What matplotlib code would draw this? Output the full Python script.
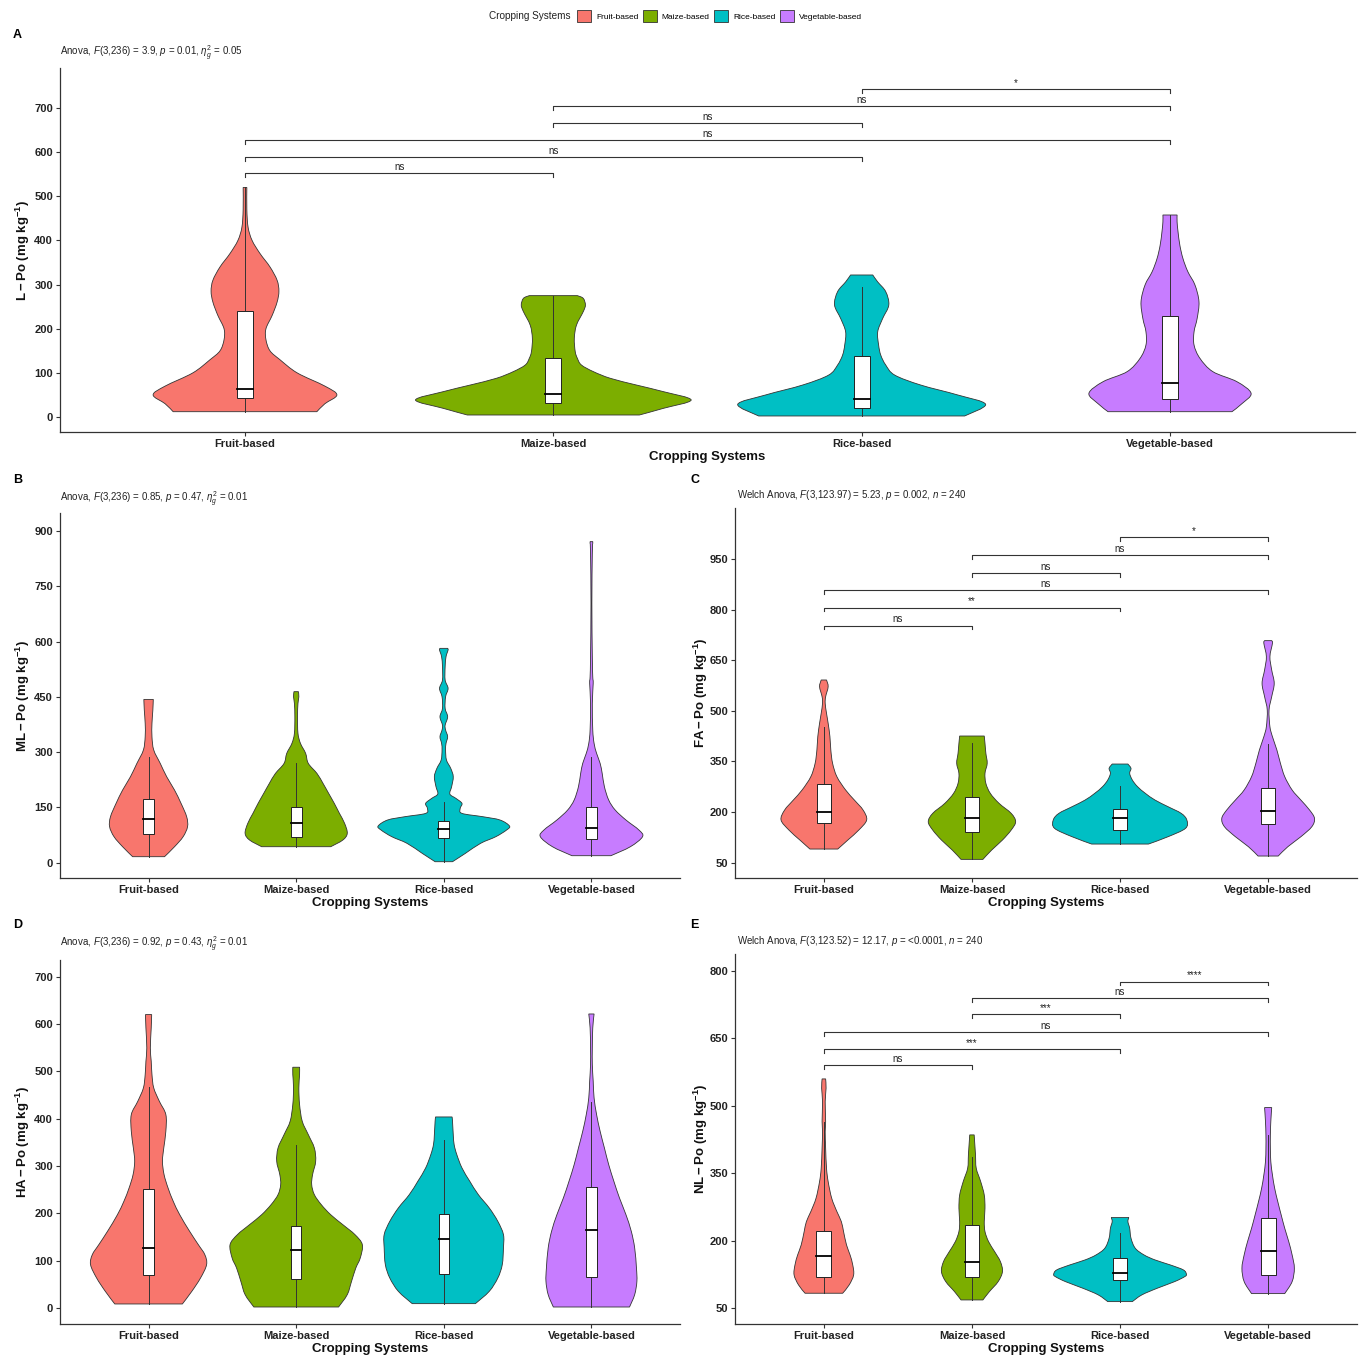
import matplotlib
matplotlib.use("Agg")
import matplotlib.pyplot as plt
from matplotlib.patches import Patch, PathPatch
from matplotlib.path import Path

plt.rcParams['font.family'] = ['Liberation Sans', 'DejaVu Sans']
plt.rcParams['mathtext.fontset'] = 'custom'
plt.rcParams['mathtext.rm'] = 'Liberation Sans'
plt.rcParams['mathtext.it'] = 'Liberation Sans:italic'
plt.rcParams['mathtext.bf'] = 'Liberation Sans:bold'

W, H = 1361, 1356

categories = ["Fruit-based", "Maize-based", "Rice-based", "Vegetable-based"]
colors = ["#F8766D", "#7CAE00", "#00BFC4", "#C77CFF"]

# ---------------- Panel A : L-Po ----------------
A_vy = [
    [12, 30, 50, 70, 100, 130, 150, 175, 200, 230, 260, 285, 310, 340, 370, 400, 430, 470, 520],
    [4.5, 19.6, 38.5, 57.4, 72.5, 87.6, 102.7, 117.8, 132.9, 148, 178, 208, 238.6, 253.7, 268.8, 274.9],
    [2.3, 28.7, 50, 72.5, 95, 117.8, 140, 163, 193, 223, 253.7, 284, 306, 321.7],
    [12, 30, 53.6, 80, 102.7, 133, 163, 193, 223, 261, 299, 329, 359, 389, 420, 442, 457.6],
]
A_vw = [
    [.233, .259, .298, .259, .169, .113, .081, .068, .068, .088, .104, .110, .104, .081, .049, .023, .010, .006, .006],
    [.279, .357, .447, .357, .269, .185, .130, .091, .078, .071, .068, .075, .097, .104, .097, .078],
    [.334, .402, .311, .191, .107, .078, .062, .055, .052, .068, .088, .078, .052, .036],
    [.201, .233, .263, .217, .139, .097, .078, .078, .088, .094, .081, .058, .042, .032, .026, .023, .023],
]
# [lower whisker, q1, median, q3, upper whisker]
A_box = [[12, 42, 63, 239, 520], [4.5, 31, 51, 134, 275], [2.3, 19.6, 40, 139, 295], [12, 40.8, 77.8, 228.8, 457]]
A_pairs = [(1, 2), (1, 3), (1, 4), (2, 3), (2, 4), (3, 4)]
A_bh = [553, 589, 627.5, 666, 704.6, 743]
A_blab = ["ns", "ns", "ns", "ns", "ns", "*"]

# ---------------- Panel B : ML-Po ----------------
B_vy = [
    [16.3, 43.4, 70.5, 97.7, 124.8, 161, 197, 233, 269.5, 305.7, 341.8, 378, 414, 443],
    [43.4, 61.5, 79.6, 106.7, 133.8, 161, 188, 215, 242, 269.5, 296.6, 323.7, 351, 396, 432, 450, 464],
    [2.7, 25.3, 52.5, 70.5, 88.6, 99.5, 115.8, 124.8, 133.8, 147.4, 161, 174.5, 186.3, 206.2, 233.3,
     255.9, 278.5, 305.7, 323.7, 341.8, 359.9, 373.4, 396, 418.6, 450.3, 472.9, 495.5, 531.7, 558.9, 577, 581.5],
    [19, 43.4, 70.5, 88.6, 115.8, 142.9, 170, 206, 242, 269.5, 296.6, 323.7, 360, 432, 486.5, 504.6,
     558.9, 703.6, 839, 866.4, 870.9],
]
B_vw = [
    [.108, .176, .234, .264, .258, .220, .176, .123, .079, .035, .023, .023, .029, .032],
    [.234, .316, .346, .328, .293, .258, .220, .182, .141, .082, .064, .029, .012, .009, .012, .018, .015],
    [.059, .146, .249, .352, .425, .445, .381, .264, .123, .111, .123, .082, .041, .053, .064,
     .047, .018, .012, .015, .026, .012, .009, .026, .009, .012, .029, .009, .009, .015, .029, .026],
    [.132, .264, .346, .322, .234, .161, .117, .088, .073, .059, .035, .018, .009, .006, .012, .009,
     .006, .003, .006, .009, .009],
]
B_box = [[16.3, 76.9, 119.4, 171.8, 285.8], [43.4, 68.7, 106.7, 151.9, 271.3],
         [2.7, 66, 91.3, 114, 165.5], [19, 63.3, 93.1, 151.9, 287.6]]

# ---------------- Panel C : FA-Po ----------------
C_vy = [
    [90.5, 117.2, 146.8, 176.5, 206, 235.7, 265.4, 304.9, 344.4, 384, 423.4, 463, 492.6, 522.2, 542, 571.6, 591.4],
    [59.9, 87.5, 117.2, 146.8, 171.5, 196.2, 225.9, 255.5, 285, 314.8, 344.4, 374, 403.7, 425.4],
    [105.3, 127, 151.8, 176.5, 196.2, 216, 235.7, 255.5, 275.3, 295, 314.8, 329.6, 342.4],
    [69.8, 97.4, 127, 156.7, 181.4, 206, 235.7, 265.4, 304.9, 344.4, 384, 423.4, 453, 502.5, 542,
     581.5, 621, 660.6, 700, 708],
]
C_vw = [
    [.094, .162, .236, .289, .265, .206, .147, .088, .059, .047, .041, .029, .018, .009, .012, .029, .018],
    [.074, .133, .206, .265, .295, .265, .183, .124, .094, .088, .103, .094, .088, .083],
    [.192, .324, .442, .451, .413, .324, .236, .171, .118, .083, .065, .074, .053],
    [.068, .133, .221, .295, .313, .280, .221, .162, .112, .083, .059, .029, .012, .006, .024,
     .041, .024, .012, .029, .024],
]
C_box = [[90.5, 166.6, 200, 283, 453], [59.9, 140.9, 183.4, 245.6, 405.7],
         [105.3, 146.8, 181.4, 208, 277.2], [69.8, 164.6, 204, 270.3, 401.7]]
C_bh = [752.4, 805.8, 858, 907.5, 962, 1014]
C_blab = ["ns", "**", "ns", "ns", "ns", "*"]

# ---------------- Panel D : HA-Po ----------------
D_vy = [
    [8.5, 35.2, 63.4, 91.5, 112.7, 133.8, 162, 197, 225.4, 253.5, 281.7, 309.9, 338, 373, 408.5, 436.6,
     464.8, 493, 521, 549.3, 591.5, 619.7],
    [2.1, 28.2, 56.3, 84.5, 105.6, 133.8, 155, 176, 197, 218.3, 239.4, 260.6, 281.7, 309.9, 338, 366.2,
     394.4, 429.6, 464.8, 493, 508.5],
    [9.2, 35.2, 63.4, 91.5, 126.8, 155, 183, 211.3, 239.4, 267.6, 295.8, 324, 345, 366, 394.4, 403.5],
    [2.1, 28.2, 56.3, 84.5, 126.8, 162, 197, 232.4, 267.6, 302.8, 338, 373.2, 408.5, 443.7, 478.9, 514,
     549.3, 591.5, 621],
]
D_vw = [
    [.229, .293, .352, .393, .381, .337, .278, .211, .167, .132, .105, .094, .103, .117, .117, .073,
     .035, .023, .018, .012, .018, .021],
    [.287, .346, .375, .404, .434, .448, .398, .316, .234, .170, .123, .105, .111, .132, .123, .082,
     .041, .023, .018, .023, .023],
    [.214, .308, .366, .396, .404, .404, .366, .308, .234, .176, .123, .088, .070, .064, .059, .056],
    [.258, .293, .308, .305, .293, .270, .234, .190, .152, .117, .088, .059, .035, .018, .012, .006,
     .006, .009, .018],
]
D_box = [[8.5, 70.4, 126.8, 251.4, 466], [2.1, 62, 123.2, 172.5, 343.7],
         [9.2, 71.8, 146.5, 198.6, 355], [2.1, 66.2, 164, 255, 435]]

# ---------------- Panel E : NL-Po ----------------
E_vy = [
    [83.4, 101.9, 124.1, 146.4, 168.6, 190.8, 220.5, 242.7, 265, 294.6, 331.7, 361.3, 405.8, 442.9,
     465.1, 509.6, 539.3, 560],
    [68.5, 87.1, 109.3, 131.5, 153.8, 176, 198.3, 220.5, 242.7, 272.4, 302, 331.7, 361.3, 391, 420.6, 435.5],
    [64.8, 79.7, 94.5, 109.3, 120.4, 125.6, 135.2, 146.4, 157.5, 168.6, 183.4, 205.7, 227.9, 242.7, 251.6],
    [82.6, 109.3, 139, 168.6, 198.3, 227.9, 257.6, 287.2, 316.9, 346.5, 376.2, 405.8, 435.5, 465.1, 496.3],
]
E_vw = [
    [.127, .171, .201, .195, .177, .153, .133, .118, .088, .053, .029, .018, .012, .009, .012, .009, .015, .012],
    [.074, .118, .177, .206, .192, .153, .112, .088, .083, .088, .083, .059, .029, .024, .018, .015],
    [.083, .147, .251, .369, .437, .448, .428, .339, .236, .162, .103, .074, .065, .053, .059],
    [.112, .162, .177, .162, .139, .112, .088, .065, .044, .029, .018, .015, .015, .018, .024],
]
E_box = [[83.4, 120.4, 167.1, 222.7, 465], [68.5, 118.9, 153.8, 235.3, 387.3],
         [64.8, 113, 127.8, 161.2, 216.8], [82.6, 124.1, 178.2, 251.6, 435.5]]
E_bh = [591, 626.7, 663.8, 703.8, 739.4, 776.5]
E_blab = ["ns", "***", "ns", "***", "ns", "****"]

EDGE = "#333333"


def add_ax(l, t, r, b):
    return fig.add_axes([l / W, 1 - b / H, (r - l) / W, (b - t) / H])


def side_path(pts):
    """Cubic Bezier segments passing through every outline point (Catmull-Rom style handles)."""
    verts, codes = [], []
    n = len(pts)
    for k in range(n - 1):
        p0 = pts[k - 1] if k > 0 else pts[k]
        p1 = pts[k]
        p2 = pts[k + 1]
        p3 = pts[k + 2] if k + 2 < n else pts[k + 1]
        c1 = (p1[0] + (p2[0] - p0[0]) / 6, p1[1] + (p2[1] - p0[1]) / 6)
        c2 = (p2[0] - (p3[0] - p1[0]) / 6, p2[1] - (p3[1] - p1[1]) / 6)
        verts += [c1, c2, p2]
        codes += [Path.CURVE4] * 3
    return verts, codes


def violin_patch(c, y, w, color):
    right = [(c + wi, yi) for yi, wi in zip(y, w)]
    left = [(c - wi, yi) for yi, wi in zip(y, w)][::-1]
    verts = [right[0]]
    codes = [Path.MOVETO]
    v, cd = side_path(right)
    verts += v
    codes += cd
    verts.append(left[0])
    codes.append(Path.LINETO)
    v, cd = side_path(left)
    verts += v
    codes += cd
    verts.append(right[0])
    codes.append(Path.CLOSEPOLY)
    return PathPatch(Path(verts, codes), facecolor=color, edgecolor=EDGE, linewidth=0.6, zorder=2)


def panel(ax, px, vy, vw, box, bw, ylim, yticks, ylabel, brackets=None, tick_h=9, lab_off=2):
    l, t, r, b = px
    wpx, hpx = r - l, b - t
    for i in range(4):
        c = i + 1
        ax.add_patch(violin_patch(c, vy[i], vw[i], colors[i]))
        lo, q1, med, q3, hi = box[i]
        ax.plot([c, c], [lo, q1], color=EDGE, lw=0.7, zorder=3)
        ax.plot([c, c], [q3, hi], color=EDGE, lw=0.7, zorder=3)
        ax.bar(c, q3 - q1, bottom=q1, width=bw, color="white", edgecolor="#222222",
               linewidth=0.7, zorder=4)
        ax.plot([c - bw / 2, c + bw / 2], [med, med], color="black", lw=1.3, zorder=5)
    if brackets is not None:
        pairs, hts, labs = brackets
        for (i, j), h, s in zip(pairs, hts, labs):
            ax.plot([i, i, j, j], [h - tick_h, h, h, h - tick_h], color=EDGE, lw=0.8, zorder=3)
            ax.text((i + j) / 2, h + lab_off, s, ha="center", va="bottom", fontsize=7, color="#222222")
    ax.set_xlim(0.4, 4.6)
    ax.set_ylim(*ylim)
    ax.set_xticks([1, 2, 3, 4])
    ax.set_xticklabels(categories, fontsize=8, fontweight="bold", color="#222222")
    ax.set_yticks(yticks)
    ax.set_yticklabels([str(v) for v in yticks], fontsize=8, fontweight="bold", color="#222222")
    for s in ["top", "right"]:
        ax.spines[s].set_visible(False)
    for s in ["left", "bottom"]:
        ax.spines[s].set_color(EDGE)
        ax.spines[s].set_linewidth(0.9)
    ax.tick_params(axis="both", length=3, width=0.8, color=EDGE, pad=2)
    ax.set_xlabel("Cropping Systems", fontsize=9.5, fontweight="bold", va="center", color="#111111")
    ax.xaxis.set_label_coords(0.5, -25 / hpx)
    ax.set_ylabel(ylabel, fontsize=9.5, va="center", color="#111111")
    ax.yaxis.set_label_coords(-(l - 23) / wpx if l < 700 else -(l - 701) / wpx, 0.5)


fig = plt.figure(figsize=(W / 100, H / 100), dpi=100)

pxA = (60, 68, 1355, 432)
pxB = (60, 513, 680, 878)
pxC = (735, 508, 1357, 878)
pxD = (60, 960, 680, 1324)
pxE = (735, 954, 1357, 1324)

axA = add_ax(*pxA)
panel(axA, pxA, A_vy, A_vw, A_box, 0.052, (-34, 790.6), list(range(0, 701, 100)),
      r"$\mathbf{L-Po\ (mg\ kg^{-1})}$", (A_pairs, A_bh, A_blab), tick_h=9, lab_off=3)
axB = add_ax(*pxB)
panel(axB, pxB, B_vy, B_vw, B_box, 0.075, (-41.5, 948.7), list(range(0, 901, 150)),
      r"$\mathbf{ML-Po\ (mg\ kg^{-1})}$")
axC = add_ax(*pxC)
panel(axC, pxC, C_vy, C_vw, C_box, 0.095, (4.7, 1101), list(range(50, 951, 150)),
      r"$\mathbf{FA-Po\ (mg\ kg^{-1})}$", (A_pairs, C_bh, C_blab), tick_h=11, lab_off=4)
axD = add_ax(*pxD)
panel(axD, pxD, D_vy, D_vw, D_box, 0.07, (-33.8, 735), list(range(0, 701, 100)),
      r"$\mathbf{HA-Po\ (mg\ kg^{-1})}$")
axE = add_ax(*pxE)
panel(axE, pxE, E_vy, E_vw, E_box, 0.1, (15, 837.8), list(range(50, 801, 150)),
      r"$\mathbf{NL-Po\ (mg\ kg^{-1})}$", (A_pairs, E_bh, E_blab), tick_h=8, lab_off=3)

# subtitles
sub = [
    (60, 53, r"Anova, $\mathit{F}$(3,236) = 3.9, $\mathit{p}$ = 0.01, $\eta^2_g$ = 0.05"),
    (60, 499, r"Anova, $\mathit{F}$(3,236) = 0.85, $\mathit{p}$ = 0.47, $\eta^2_g$ = 0.01"),
    (737, 495, r"Welch Anova, $\mathit{F}$(3,123.97) = 5.23, $\mathit{p}$ = 0.002, $\mathit{n}$ = 240"),
    (60, 944, r"Anova, $\mathit{F}$(3,236) = 0.92, $\mathit{p}$ = 0.43, $\eta^2_g$ = 0.01"),
    (737, 941, r"Welch Anova, $\mathit{F}$(3,123.52) = 12.17, $\mathit{p}$ = <0.0001, $\mathit{n}$ = 240"),
]
for x, y, s in sub:
    fig.text(x / W, 1 - y / H, s, fontsize=7, ha="left", va="center", color="#222222")

letters = [(13, 35, "A"), (13, 480, "B"), (690, 480, "C"), (13, 925, "D"), (690, 925, "E")]
for x, y, s in letters:
    fig.text(x / W, 1 - y / H, s, fontsize=9, fontweight="bold", ha="left", va="center")

# legend
fig.text(489 / W, 1 - 16 / H, "Cropping Systems", fontsize=7.2, ha="left", va="center", color="#222222")
handles = [Patch(facecolor=c, edgecolor=EDGE, linewidth=0.6) for c in colors]
fig.legend(handles, categories, loc="center left", bbox_to_anchor=(577 / W, 1 - 16 / H), ncol=4,
           frameon=False, fontsize=6, handlelength=1.7, handleheight=1.7, handletextpad=0.6,
           columnspacing=0.5, borderpad=0, borderaxespad=0)

fig.savefig("out.png", dpi=100)
